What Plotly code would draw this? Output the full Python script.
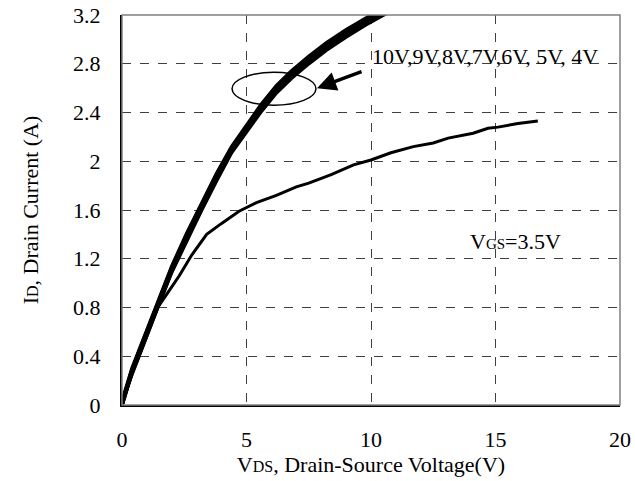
import plotly.graph_objects as go

x_main = [0, 0.1, 0.4, 0.9, 1.4, 2.0, 2.6, 3.2, 3.8, 4.4, 5.0, 5.6, 6.2, 6.8, 7.5, 8.2, 9.0, 9.8, 10.6, 11.4]
vgs_labels = ["10V", "9V", "8V", "7V", "6V", "5V", "4V"]
id_10v = [0, 0.10, 0.30, 0.56, 0.83, 1.14, 1.41, 1.66, 1.90, 2.12, 2.30, 2.47, 2.62, 2.74, 2.86, 2.97, 3.08, 3.18, 3.27, 3.35]
id_9v = [0, 0.09, 0.29, 0.55, 0.82, 1.13, 1.40, 1.65, 1.89, 2.11, 2.29, 2.46, 2.61, 2.73, 2.85, 2.96, 3.07, 3.17, 3.26, 3.34]
id_8v = [0, 0.07, 0.28, 0.55, 0.81, 1.12, 1.39, 1.64, 1.88, 2.10, 2.28, 2.45, 2.60, 2.72, 2.84, 2.95, 3.06, 3.16, 3.25, 3.33]
id_7v = [0, 0.08, 0.27, 0.54, 0.80, 1.12, 1.38, 1.63, 1.87, 2.10, 2.27, 2.44, 2.59, 2.71, 2.83, 2.94, 3.05, 3.15, 3.24, 3.32]
id_6v = [0, 0.06, 0.27, 0.53, 0.79, 1.11, 1.37, 1.62, 1.86, 2.09, 2.26, 2.43, 2.58, 2.70, 2.82, 2.93, 3.04, 3.14, 3.23, 3.31]
id_5v = [0, 0.07, 0.26, 0.52, 0.79, 1.10, 1.36, 1.61, 1.85, 2.08, 2.25, 2.42, 2.57, 2.69, 2.81, 2.92, 3.03, 3.13, 3.22, 3.30]
id_4v = [0, 0.08, 0.25, 0.52, 0.78, 1.09, 1.35, 1.60, 1.84, 2.07, 2.24, 2.41, 2.56, 2.68, 2.80, 2.91, 3.02, 3.12, 3.21, 3.29]

x_35 = [0, 0.4, 0.9, 1.4, 1.8, 2.3, 2.8, 3.4, 4.0, 4.7, 5.4, 6.2, 7.0, 7.5, 8.4, 9.3, 10.0, 10.8, 11.7, 12.5, 13.1, 14.1, 14.7, 15.1, 15.9, 16.7]
id_35 = [0, 0.27, 0.53, 0.79, 0.91, 1.06, 1.23, 1.40, 1.49, 1.59, 1.66, 1.72, 1.79, 1.82, 1.89, 1.97, 2.01, 2.07, 2.12, 2.15, 2.19, 2.23, 2.27, 2.28, 2.31, 2.33]

x_ticks = [0, 5, 10, 15, 20]
y_ticks = [0, 0.4, 0.8, 1.2, 1.6, 2, 2.4, 2.8, 3.2]
y_ticktext = ["0", "0.4", "0.8", "1.2", "1.6", "2", "2.4", "2.8", "3.2"]

FONT = "Liberation Serif, Times New Roman, serif"
FS = 22

fig = go.Figure()
for lab, ys in zip(vgs_labels, [id_10v, id_9v, id_8v, id_7v, id_6v, id_5v, id_4v]):
    fig.add_trace(go.Scatter(x=x_main, y=ys, mode="lines", name=lab,
                             line=dict(color="black", width=3.5)))
fig.add_trace(go.Scatter(x=x_35, y=id_35, mode="lines", name="3.5V",
                         line=dict(color="black", width=3)))

# ellipse grouping the curves
fig.add_shape(type="circle", xref="x", yref="y", x0=4.42, x1=7.79, y0=2.46, y1=2.73,
              line=dict(color="black", width=1.5))
# border
fig.add_shape(type="rect", xref="paper", yref="paper", x0=0, x1=1, y0=0, y1=1,
              line=dict(color="#808080", width=1.5))

fig.add_annotation(x=9.96, y=2.86, xref="x", yref="y", text="10V,9V,8V,7V,6V, 5V, 4V",
                   showarrow=False, xanchor="left", yanchor="middle",
                   font=dict(family=FONT, size=FS, color="black"))
fig.add_annotation(x=7.83, y=2.60, ax=9.68, ay=2.74, xref="x", yref="y", axref="x", ayref="y",
                   text="", showarrow=True, arrowhead=2, arrowsize=1.1, arrowwidth=3.5,
                   arrowcolor="black")
fig.add_annotation(x=13.9, y=1.34, xref="x", yref="y",
                   text="V<span style='font-size:15px'>GS</span>=3.5V",
                   showarrow=False, xanchor="left", yanchor="middle",
                   font=dict(family=FONT, size=FS, color="black"))

axis_common = dict(showgrid=True, gridcolor="#404040", griddash="dash", gridwidth=1,
                   showline=True, linecolor="black", linewidth=2, zeroline=False,
                   ticks="", automargin=False,
                   tickfont=dict(family=FONT, size=FS, color="black"))

fig.update_xaxes(range=[0, 20], tickvals=x_ticks, ticklabelstandoff=14,
                 title=dict(text="V<span style='font-size:16px'>DS</span>, Drain-Source Voltage(V)",
                            font=dict(family=FONT, size=FS, color="black"), standoff=4),
                 **axis_common)
fig.update_yaxes(range=[0, 3.2], tickvals=y_ticks, ticktext=y_ticktext, ticklabelstandoff=15,
                 title=dict(text="I<span style='font-size:16px'>D</span>, Drain Current (A)",
                            font=dict(family=FONT, size=FS, color="black"), standoff=28),
                 **axis_common)

fig.update_layout(width=635, height=481, showlegend=False,
                  margin=dict(l=122, r=15, t=15, b=76),
                  paper_bgcolor="white", plot_bgcolor="white",
                  font=dict(family=FONT, color="black"))

fig.write_html("out.html", config={"displayModeBar": False},
               post_script="document.body.style.margin='0';document.body.style.padding='0';")
